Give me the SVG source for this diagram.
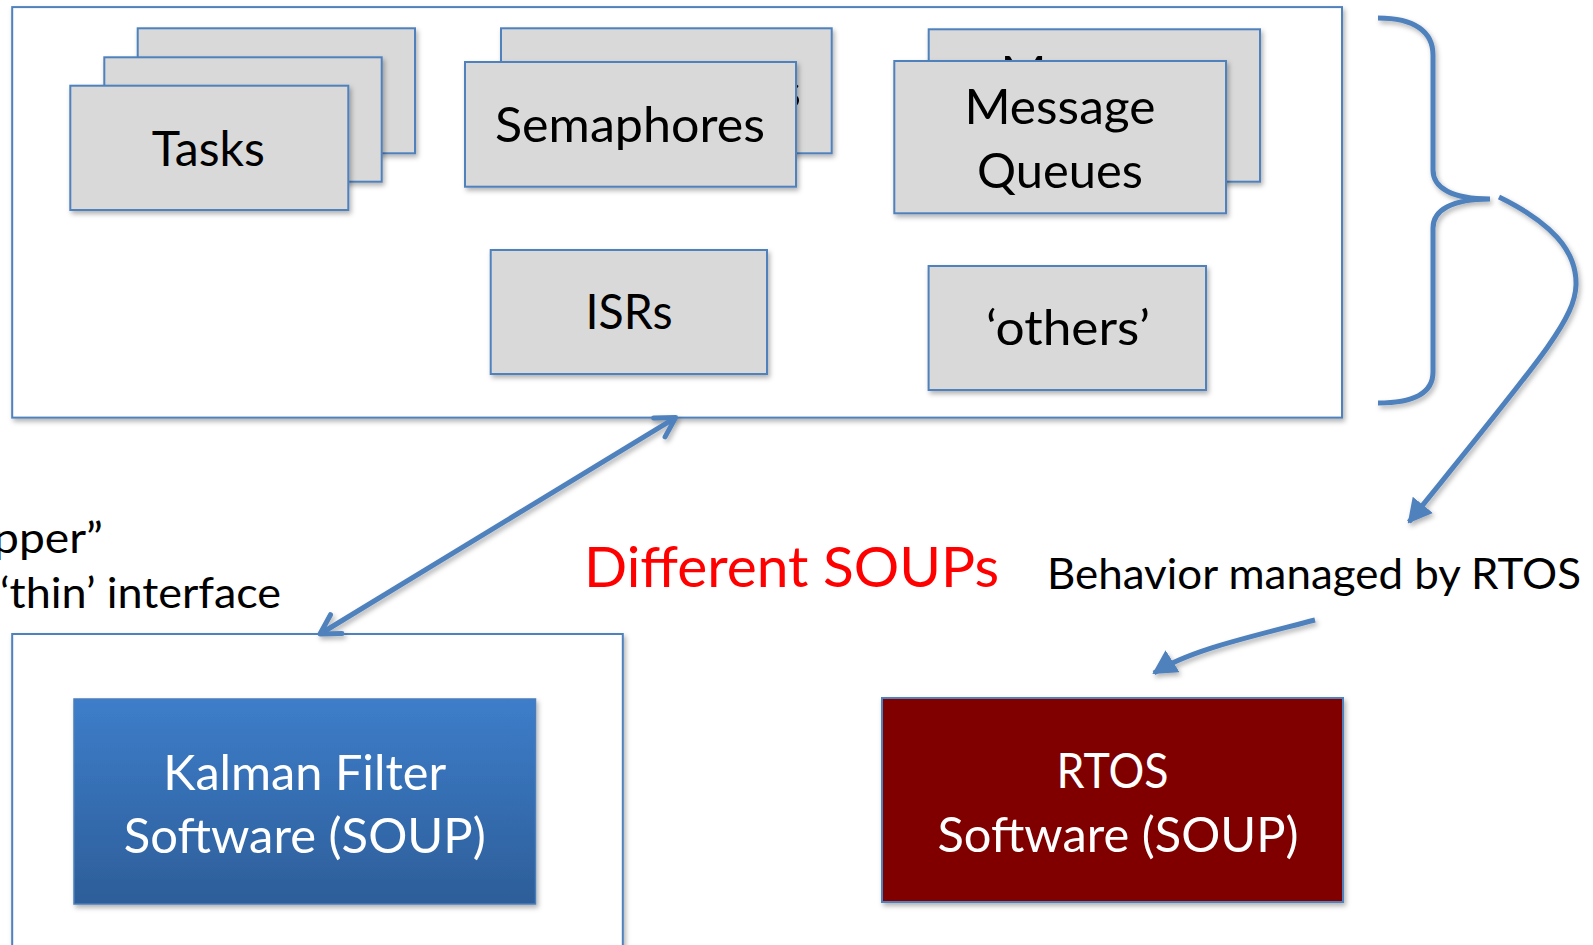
<svg xmlns="http://www.w3.org/2000/svg" width="1593" height="945" viewBox="0 0 1593 945">
  <defs>
    <style>
      .card { fill: #D9D9D9; stroke: #4F81BD; stroke-width: 2; }
      .frame { fill: #FFFFFF; stroke: #4F81BD; stroke-width: 2; }
      .lbl { font-family: "Lato", "Liberation Sans", sans-serif; font-size: 47.5px; fill: #000000; text-anchor: middle; }
      .wlbl { font-family: "Lato", "Liberation Sans", sans-serif; font-size: 47.5px; fill: #FFFFFF; text-anchor: middle; }
      .note { font-family: "Lato", "Liberation Sans", sans-serif; font-size: 42px; fill: #000000; }
      .red { font-family: "Lato", "Liberation Sans", sans-serif; font-size: 57px; fill: #FF0000; }
      .conn { fill: none; stroke: #4F81BD; stroke-width: 5; }
    </style>
    <filter id="shadow" x="-10%" y="-10%" width="130%" height="130%">
      <feDropShadow dx="2" dy="3" stdDeviation="2.5" flood-color="#000000" flood-opacity="0.3"/>
    </filter>
    <linearGradient id="kalmanGrad" x1="0" y1="0" x2="0" y2="1">
      <stop offset="0" stop-color="#3D7DCA"/>
      <stop offset="1" stop-color="#2D5E99"/>
    </linearGradient>
    <clipPath id="semBackClip">
      <rect x="796" y="28.3" width="36" height="125"/>
    </clipPath>
    <clipPath id="msgBackClip">
      <rect x="928.7" y="29.3" width="331.3" height="31.7"/>
    </clipPath>
    <marker id="tri" viewBox="0 0 24 26" refX="22" refY="13" markerWidth="24" markerHeight="26" markerUnits="userSpaceOnUse" orient="auto">
      <path d="M0,0 L24,13 L0,26 z" fill="#4F81BD"/>
    </marker>
    <marker id="open" viewBox="-26 -16 30 32" refX="0" refY="0" markerWidth="30" markerHeight="32" markerUnits="userSpaceOnUse" orient="auto-start-reverse">
      <path d="M-19,-11 L0,0 L-19,11" fill="none" stroke="#4F81BD" stroke-width="5" stroke-linecap="round" stroke-linejoin="round"/>
    </marker>
  </defs>

  <rect width="1593" height="945" fill="#FFFFFF"/>

  <g id="rtos-objects-frame">
    <rect class="frame" x="12.2" y="7.1" width="1329.8" height="410.5" filter="url(#shadow)"/>
  </g>

  <g id="tasks">
    <rect class="card" x="137.7" y="28.3" width="277.3" height="125" filter="url(#shadow)"/>
    <rect class="card" x="104.3" y="57.3" width="277.4" height="124.4" filter="url(#shadow)"/>
    <rect class="card" x="70.3" y="85.7" width="278" height="124.3" filter="url(#shadow)"/>
    <text class="lbl" x="208.3" y="165.7" textLength="113" lengthAdjust="spacingAndGlyphs">Tasks</text>
  </g>

  <g id="semaphores">
    <rect class="card" x="501" y="28.3" width="330.7" height="125" filter="url(#shadow)"/>
    <g clip-path="url(#semBackClip)">
      <text class="lbl" x="666" y="108" textLength="270" lengthAdjust="spacingAndGlyphs">Semaphores</text>
    </g>
    <rect class="card" x="465" y="62" width="331" height="124.7" filter="url(#shadow)"/>
    <text class="lbl" x="630" y="141.7" textLength="270" lengthAdjust="spacingAndGlyphs">Semaphores</text>
  </g>

  <g id="message-queues">
    <rect class="card" x="928.7" y="29.3" width="331.3" height="152.4" filter="url(#shadow)"/>
    <g clip-path="url(#msgBackClip)">
      <text class="lbl" x="1096" y="91" textLength="191" lengthAdjust="spacingAndGlyphs">Message</text>
    </g>
    <rect class="card" x="894.3" y="61" width="331.7" height="152.3" filter="url(#shadow)"/>
    <text class="lbl" x="1060" y="124" textLength="191" lengthAdjust="spacingAndGlyphs">Message</text>
    <text class="lbl" x="1060" y="188" textLength="166" lengthAdjust="spacingAndGlyphs">Queues</text>
  </g>

  <g id="isrs">
    <rect class="card" x="490.7" y="250" width="276.3" height="124" filter="url(#shadow)"/>
    <text class="lbl" x="629" y="329" textLength="87" lengthAdjust="spacingAndGlyphs">ISRs</text>
  </g>

  <g id="others">
    <rect class="card" x="928.6" y="266" width="277.4" height="124" filter="url(#shadow)"/>
    <text class="lbl" x="1068" y="345" textLength="164" lengthAdjust="spacingAndGlyphs">‘others’</text>
  </g>

  <g id="wrapper-frame">
    <rect class="frame" x="12.2" y="634" width="610.6" height="330" filter="url(#shadow)"/>
  </g>

  <g id="kalman">
    <rect x="74" y="699" width="461.5" height="205" fill="url(#kalmanGrad)" stroke="#4A7EBB" stroke-width="1.5" filter="url(#shadow)"/>
    <text class="wlbl" x="304.8" y="789.5" textLength="283" lengthAdjust="spacingAndGlyphs">Kalman Filter</text>
    <text class="wlbl" x="304.8" y="853.4" textLength="362" lengthAdjust="spacingAndGlyphs">Software (SOUP)</text>
  </g>

  <g id="rtos">
    <rect x="882" y="698" width="461" height="204" fill="#800000" stroke="#4F81BD" stroke-width="2" filter="url(#shadow)"/>
    <text class="wlbl" x="1112.5" y="787.5" textLength="112" lengthAdjust="spacingAndGlyphs">RTOS</text>
    <text class="wlbl" x="1118" y="851.5" textLength="361" lengthAdjust="spacingAndGlyphs">Software (SOUP)</text>
  </g>

  <g id="label-wrapper">
    <text class="note" x="-7" y="553.3" textLength="110" lengthAdjust="spacingAndGlyphs">pper”</text>
    <text class="note" x="0" y="608.3" textLength="281" lengthAdjust="spacingAndGlyphs">‘thin’ interface</text>
  </g>

  <g id="label-different">
    <text class="red" x="584" y="587" textLength="415" lengthAdjust="spacingAndGlyphs">Different SOUPs</text>
  </g>

  <g id="label-behavior">
    <text class="note" x="1047" y="589" textLength="534" lengthAdjust="spacingAndGlyphs">Behavior managed by RTOS</text>
  </g>

  <g id="connectors" filter="url(#shadow)">
    <path class="conn" stroke-width="6" d="M1378,18 C1415,18 1433,32 1433,55 L1433,170 C1433,188 1452,199 1490,199 C1452,199 1433,210 1433,228 L1433,372 C1433,392 1415,403 1378,403"/>
    <path class="conn" d="M1499,197 C1550,222 1577,250 1576,285 C1575,320 1540,360 1409,522" marker-end="url(#tri)"/>
    <path class="conn" d="M320,634 L675.6,417.6" marker-start="url(#open)" marker-end="url(#open)"/>
    <path class="conn" d="M1315,620 C1250,637 1190,650 1154,673" marker-end="url(#tri)"/>
  </g>
</svg>
